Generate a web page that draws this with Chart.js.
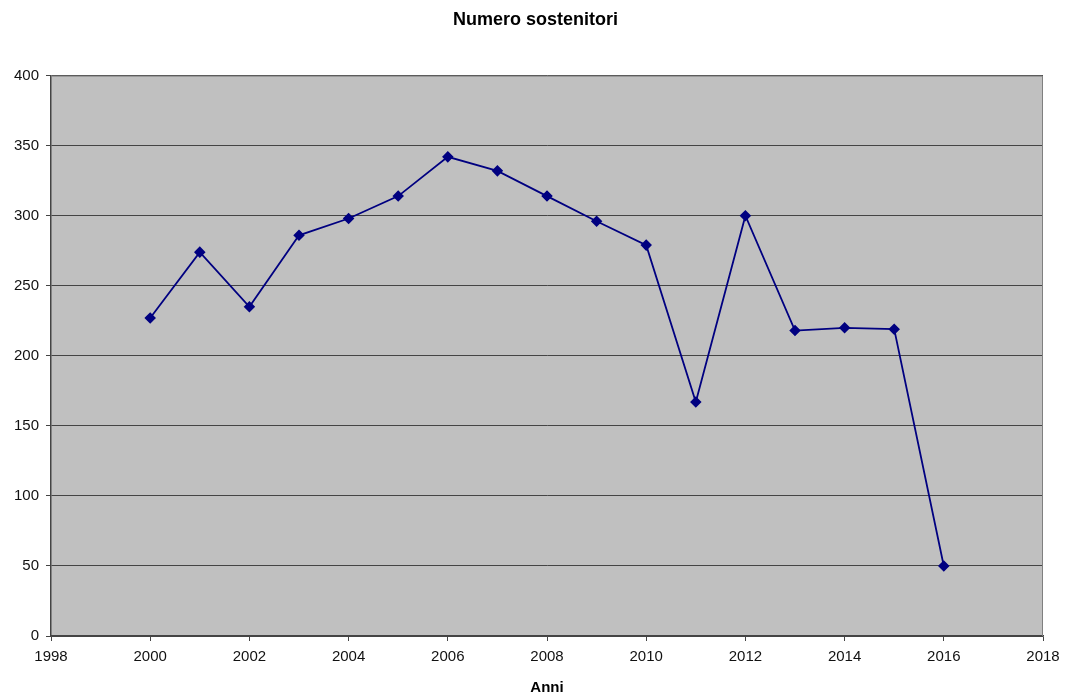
<!DOCTYPE html>
<html>
<head>
<meta charset="utf-8">
<script src="https://cdn.jsdelivr.net/npm/chart.js@4"></script>
<style>
    body { margin: 0; background: #fff; }
</style>
</head>
<body>
<canvas id="myChart" width="1071" height="695"></canvas>
<script>
const years = [2000, 2001, 2002, 2003, 2004, 2005, 2006, 2007, 2008, 2009, 2010, 2011, 2012, 2013, 2014, 2015, 2016];
const sostenitori = [227, 274, 235, 286, 298, 314, 342, 332, 314, 296, 279, 167, 300, 218, 220, 219, 50];

const fontFamily = "'Liberation Sans', Arial, sans-serif";

// grey plot background + top/right frame like the old Excel chart
const plotBg = {
    id: 'plotBg',
    afterLayout(chart) {
        // center the title on the whole canvas, not just the padded box
        const t = chart.titleBlock;
        if (t) {
            t.left = 0;
            t.right = chart.width;
            t.width = chart.width;
        }
    },
    beforeDraw(chart) {
        const { ctx, chartArea: a } = chart;
        ctx.save();
        ctx.fillStyle = '#c0c0c0';
        ctx.fillRect(a.left, a.top, a.right - a.left, a.bottom - a.top);
        ctx.restore();
    },
    afterDatasetsDraw(chart) {
        const { ctx, chartArea: a } = chart;
        ctx.save();
        ctx.strokeStyle = '#808080';
        ctx.lineWidth = 1;
        ctx.beginPath();
        ctx.moveTo(a.left, a.top + 0.5);
        ctx.lineTo(a.right - 0.5, a.top + 0.5);
        ctx.lineTo(a.right - 0.5, a.bottom);
        ctx.stroke();
        ctx.restore();
    }
};

const data = {
    datasets: [{
        label: 'Numero sostenitori',
        data: years.map((y, i) => ({ x: y, y: sostenitori[i] })),
        borderColor: '#000080',
        backgroundColor: '#000080',
        borderWidth: 1.8,
        pointStyle: 'rectRot',
        pointRadius: 4.5,
        pointHoverRadius: 4.5,
        tension: 0
    }]
};

const config = {
    type: 'line',
    data,
    plugins: [plotBg],
    options: {
        responsive: false,
        animation: false,
        layout: { padding: { left: 0, right: 28, top: 0, bottom: 0 } },
        plugins: {
            legend: { display: false },
            tooltip: { enabled: false },
            title: {
                display: true,
                text: 'Numero sostenitori',
                color: '#000',
                font: { family: fontFamily, size: 18, weight: 'bold', lineHeight: 1.2 },
                padding: { top: 9, bottom: 45 }
            }
        },
        scales: {
            x: {
                type: 'linear',
                min: 1998,
                max: 2018,
                afterFit(scale) { scale.height = 59; },
                ticks: {
                    stepSize: 2,
                    color: '#111',
                    padding: 7,
                    maxRotation: 0,
                    autoSkip: false,
                    font: { family: fontFamily, size: 15 },
                    callback: v => String(v)
                },
                grid: { drawOnChartArea: false, drawTicks: true, tickLength: 5, color: '#444' },
                border: { color: '#444', width: 1.5 },
                title: {
                    display: true,
                    text: 'Anni',
                    color: '#000',
                    font: { family: fontFamily, size: 15, weight: 'bold', lineHeight: 1 },
                    padding: { top: 0, bottom: 0 }
                }
            },
            y: {
                min: 0,
                max: 400,
                afterFit(scale) { scale.width = 51; },
                ticks: {
                    stepSize: 50,
                    color: '#111',
                    padding: 7,
                    font: { family: fontFamily, size: 15 }
                },
                grid: { color: '#444', lineWidth: 1, tickLength: 5, drawTicks: true },
                border: { color: '#444', width: 1.5 }
            }
        }
    }
};

const myChart = new Chart(document.getElementById('myChart'), config);
</script>
</body>
</html>
